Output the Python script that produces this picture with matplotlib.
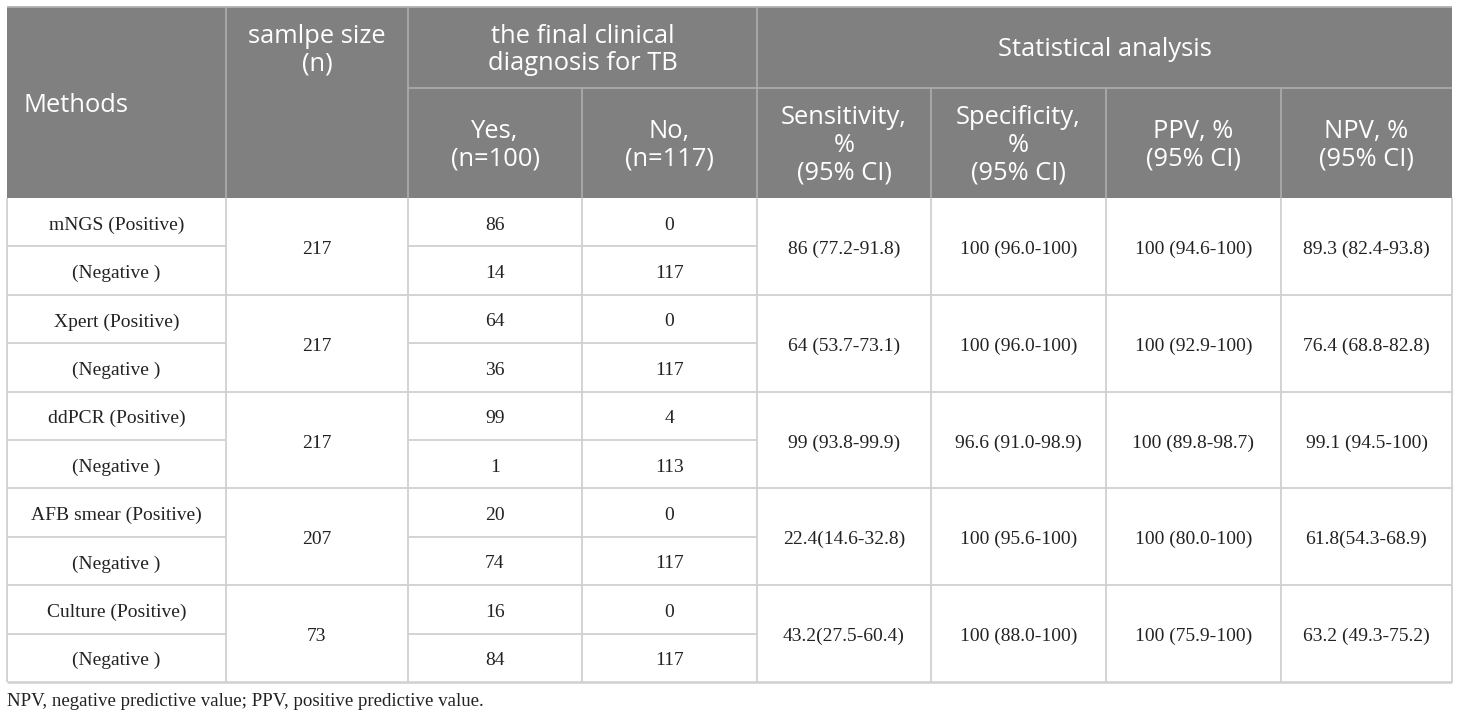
import matplotlib
matplotlib.use("Agg")
import matplotlib.pyplot as plt
from matplotlib.patches import Rectangle

# table data
methods = ["mNGS", "Xpert", "ddPCR", "AFB smear", "Culture"]
sample_n = [217, 217, 217, 207, 73]
yes_pos = [86, 64, 99, 20, 16]
yes_neg = [14, 36, 1, 74, 84]
no_pos = [0, 0, 4, 0, 0]
no_neg = [117, 117, 113, 117, 117]
sens = ["86 (77.2-91.8)", "64 (53.7-73.1)", "99 (93.8-99.9)", "22.4(14.6-32.8)", "43.2(27.5-60.4)"]
spec = ["100 (96.0-100)", "100 (96.0-100)", "96.6 (91.0-98.9)", "100 (95.6-100)", "100 (88.0-100)"]
ppv = ["100 (94.6-100)", "100 (92.9-100)", "100 (89.8-98.7)", "100 (80.0-100)", "100 (75.9-100)"]
npv = ["89.3 (82.4-93.8)", "76.4 (68.8-82.8)", "99.1 (94.5-100)", "61.8(54.3-68.9)", "63.2 (49.3-75.2)"]
stat_heads = ["Sensitivity,\n%\n(95% CI)", "Specificity,\n%\n(95% CI)", "PPV, %\n(95% CI)", "NPV, %\n(95% CI)"]
footnote = "NPV, negative predictive value; PPV, positive predictive value."

# layout (pixels)
W, H = 1460, 719
cols = [7, 226, 408, 582, 757, 931, 1106, 1281, 1452]
top, hmid, hbot = 7, 88, 198
row_h = (682 - hbot) / 10

HEAD = "#808080"
HLINE = "#a9a9a9"
BLINE = "#d0d0d0"
sans = ["Open Sans", "DejaVu Sans"]
serif = ["Liberation Serif", "DejaVu Serif"]
hfs = 18.4
bfs = 14
dy = 3    # body text sits a bit below the cell centre
hdy = 2.5 # same for header text

fig = plt.figure(figsize=(W / 100, H / 100), dpi=100)
ax = fig.add_axes([0, 0, 1, 1])
ax.set_xlim(0, W)
ax.set_ylim(H, 0)
ax.axis("off")

# header background
ax.add_patch(Rectangle((cols[0], top), cols[-1] - cols[0], hbot - top, color=HEAD, lw=0))

def hline(x0, x1, y, c, lw=1.3):
    ax.plot([x0, x1], [y, y], color=c, lw=lw, solid_capstyle="butt")

def vline(x, y0, y1, c, lw=1.3):
    ax.plot([x, x], [y0, y1], color=c, lw=lw, solid_capstyle="butt")

# header lines
hline(cols[2], cols[-1], hmid, HLINE)
for i in range(1, len(cols) - 1):
    if i in (3, 5, 6, 7):
        vline(cols[i], hmid, hbot, HLINE)
    else:
        vline(cols[i], top, hbot, HLINE)
hline(cols[0], cols[-1], top, "#b0b0b0")

def htxt(x, y, s):
    ax.text(x, y + hdy, s, ha="center", va="center", color="white", fontsize=hfs,
            family=sans, linespacing=1.15)

ax.text(cols[0] + 16, (top + hbot) / 2 + hdy, "Methods", ha="left", va="center",
        color="white", fontsize=hfs, family=sans)
htxt((cols[1] + cols[2]) / 2, (top + hmid) / 2, "samlpe size\n(n)")
htxt((cols[2] + cols[4]) / 2, (top + hmid) / 2, "the final clinical\ndiagnosis for TB")
htxt((cols[4] + cols[-1]) / 2, (top + hmid) / 2, "Statistical analysis")
htxt((cols[2] + cols[3]) / 2, (hmid + hbot) / 2, "Yes,\n(n=100)")
htxt((cols[3] + cols[4]) / 2, (hmid + hbot) / 2, "No,\n(n=117)")
for k, s in enumerate(stat_heads):
    htxt((cols[4 + k] + cols[5 + k]) / 2, (hmid + hbot) / 2, s)

# body
def btxt(x, y, s):
    ax.text(x, y + dy, s, ha="center", va="center", color="#222222", fontsize=bfs, family=serif)

for i in range(len(methods)):
    y0 = hbot + 2 * i * row_h
    ym = y0 + row_h
    y1 = y0 + 2 * row_h
    # inner split line (methods + yes/no columns)
    hline(cols[0], cols[1], ym, BLINE)
    hline(cols[2], cols[4], ym, BLINE)
    hline(cols[0], cols[-1], y1, BLINE, lw=1.8 if i == len(methods) - 1 else 1.3)
    btxt((cols[0] + cols[1]) / 2, y0 + row_h / 2, methods[i] + " (Positive)")
    btxt((cols[0] + cols[1]) / 2, ym + row_h / 2, "(Negative )")
    btxt((cols[1] + cols[2]) / 2, ym, str(sample_n[i]))
    btxt((cols[2] + cols[3]) / 2, y0 + row_h / 2, str(yes_pos[i]))
    btxt((cols[2] + cols[3]) / 2, ym + row_h / 2, str(yes_neg[i]))
    btxt((cols[3] + cols[4]) / 2, y0 + row_h / 2, str(no_pos[i]))
    btxt((cols[3] + cols[4]) / 2, ym + row_h / 2, str(no_neg[i]))
    for k, col in enumerate([sens, spec, ppv, npv]):
        btxt((cols[4 + k] + cols[5 + k]) / 2, ym, col[i])

bottom = hbot + 10 * row_h
for x in cols:
    vline(x, hbot, bottom, BLINE)

ax.text(cols[0], 702, footnote, ha="left", va="center", color="#222222",
        fontsize=13.6, family=serif)

fig.savefig("out.png", dpi=100)
